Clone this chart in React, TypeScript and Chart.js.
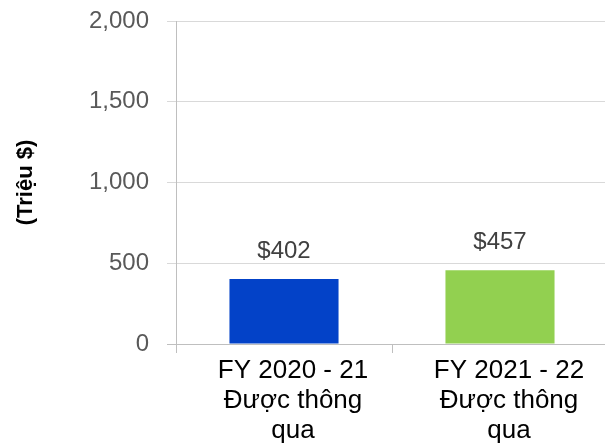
import React, { useEffect, useRef } from "react";
import { Chart, registerables } from "chart.js";

Chart.register(...registerables);

const categories: string[][] = [
  ["FY 2020 - 21", "Được thông", "qua"],
  ["FY 2021 - 22", "Được thông", "qua"],
];
const values: number[] = [402, 457];
const barColors: string[] = ["#0342C8", "#92D050"];
const yMin = 0;
const yMax = 2000;
const yStep = 500;
const yTitle = "(Triệu $)";

const valueLabelPlugin = {
  id: "valueLabels",
  afterDatasetsDraw(chart: any) {
    const ctx = chart.ctx;
    const meta = chart.getDatasetMeta(0);
    ctx.save();
    ctx.font = "24px 'Liberation Sans', Arial, sans-serif";
    ctx.fillStyle = "#404040";
    ctx.textAlign = "center";
    ctx.textBaseline = "middle";
    meta.data.forEach((bar: any, i: number) => {
      ctx.fillText("$" + values[i], bar.x, bar.y - 28);
    });
    ctx.restore();
  },
};

export default function App() {
  const ref = useRef<HTMLCanvasElement>(null);
  useEffect(() => {
    if (!ref.current) return;
    const chart = new Chart(ref.current, {
      type: "bar",
      data: {
        labels: categories,
        datasets: [
          {
            data: values,
            backgroundColor: barColors,
            borderWidth: 0,
            categoryPercentage: 1,
            barPercentage: 0.505,
          },
        ],
      },
      options: {
        animation: false,
        responsive: true,
        maintainAspectRatio: false,
        layout: { padding: { top: 13, left: 0, right: 0, bottom: 0 } },
        plugins: { legend: { display: false }, tooltip: { enabled: false } },
        scales: {
          x: {
            grid: {
              display: true,
              drawOnChartArea: false,
              drawTicks: true,
              tickLength: 9,
              color: "#BFBFBF",
            },
            border: { display: true, color: "#BFBFBF" },
            ticks: {
              autoSkip: false,
              maxRotation: 0,
              minRotation: 0,
              padding: 3,
              labelOffset: 9,
              color: "#000000",
              font: { family: "'Liberation Sans', Arial, sans-serif", size: 26, lineHeight: 1.15 },
            },
            afterFit(scale: any) {
              scale.height = 104;
            },
          },
          y: {
            min: yMin,
            max: yMax,
            ticks: {
              stepSize: yStep,
              padding: 18,
              color: "#595959",
              font: { family: "'Liberation Sans', Arial, sans-serif", size: 24, lineHeight: 1 },
              callback: (v: any) => Number(v).toLocaleString("en-US"),
            },
            grid: {
              color: (c: any) => (c.tick && c.tick.value === 0 ? "#BFBFBF" : "#D9D9D9"),
              tickLength: 9,
            },
            border: { display: true, color: "#BFBFBF" },
            title: {
              display: true,
              text: yTitle,
              color: "#000000",
              padding: { top: 5, bottom: 4 },
              font: { family: "'Liberation Sans', Arial, sans-serif", size: 22, weight: "bold", lineHeight: 1.2 },
            },
            afterFit(scale: any) {
              scale.width = 168;
              scale.paddingTop = 0;
              scale.paddingBottom = 0;
            },
          },
        },
      },
      plugins: [valueLabelPlugin],
    });
    return () => chart.destroy();
  }, []);

  return (
    <div
      style={{
        position: "fixed",
        left: 0,
        top: 0,
        width: 605,
        height: 448,
        overflow: "hidden",
        background: "#ffffff",
      }}
    >
      <div style={{ position: "absolute", left: 8, top: 8, width: 600, height: 440 }}>
        <canvas ref={ref} />
      </div>
    </div>
  );
}
